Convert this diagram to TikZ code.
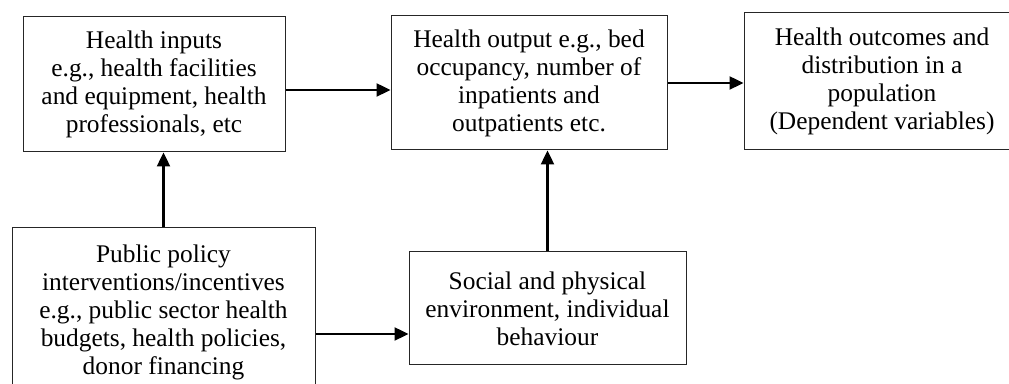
\documentclass[tikz,border=0pt]{standalone}
\usepackage{fontspec}
\setmainfont{Liberation Serif}
\usetikzlibrary{arrows.meta}
\tikzset{
  box/.style={draw=black!85, line width=0.5pt, align=center, inner sep=0pt,
    font=\fontsize{12.7}{14}\selectfont},
  arr/.style={line width=1.2pt, -{Triangle[length=7pt,width=6.5pt]}}
}
\begin{document}
\begin{tikzpicture}[x=0.5pt,y=-0.5pt]
\useasboundingbox (0,0) rectangle (1009,384);
\clip (0,0) rectangle (1009,384);
\node[box, minimum width=131pt, minimum height=67.5pt] (b1) at (154,84.5)
  {Health inputs\\e.g., health facilities\\and equipment, health\\professionals, etc};
\node[box, minimum width=138pt, minimum height=67pt] (b2) at (529,83)
  {Health output e.g., bed\\occupancy, number of\\inpatients and\\outpatients etc.};
\node[box, minimum width=138pt, minimum height=68.5pt] (b3) at (882,81.5)
  {Health outcomes and\\distribution in a\\population\\(Dependent variables)};
\node[box, minimum width=151.5pt, minimum height=84pt] (b4) at (163.5,312)
  {Public policy\\interventions/incentives\\e.g., public sector health\\budgets, health policies,\\donor financing};
\node[box, minimum width=138.5pt, minimum height=56.5pt] (b5) at (547.5,308.5)
  {Social and physical\\environment, individual\\behaviour};
\draw[arr] (b1.east |- 0,90) -- (b2.west |- 0,90);
\draw[arr] (b2.east) -- (b2.east -| b3.west);
\draw[arr] (b4.north) -- (b4.north |- b1.south);
\draw[arr] (b5.north) -- (b5.north |- b2.south);
\draw[arr] (b4.east |- 0,334) -- (b5.west |- 0,334);
\end{tikzpicture}
\end{document}
